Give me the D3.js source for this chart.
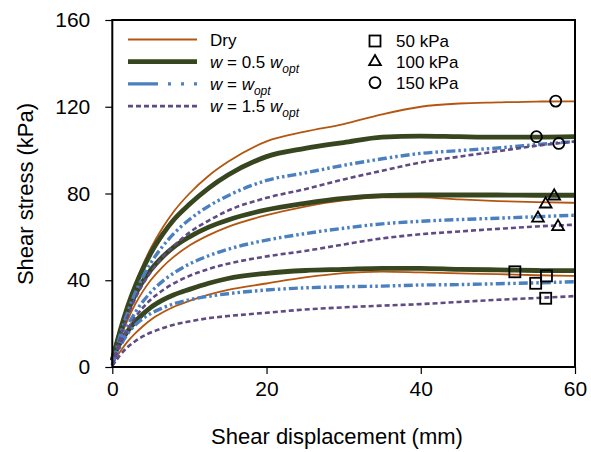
<!DOCTYPE html>
<html>
<head>
<meta charset="utf-8">
<script src="https://cdn.jsdelivr.net/npm/d3@7"></script>
<style>
  body { margin: 0; background: #fff; }
  svg { display: block; }
  text { font-family: "Liberation Sans", Arial, Helvetica, sans-serif; fill: #000; }
</style>
</head>
<body>
<svg id="chart" width="591" height="452"></svg>
<script>
// Shear displacement (mm) at which stresses are sampled
const displacement = [0, 0.5, 1, 2, 3, 4, 5, 6.5, 8, 10, 12.5, 15, 20, 25, 30, 35, 40, 45, 50, 55, 60];

// Shear stress (kPa) — dry specimens
const dry50  = [2, 4.5, 7, 11.8, 15.6, 18.9, 21.8, 25.1, 27.8, 30.5, 33.4, 35.6, 38.5, 41.3, 43.3, 44, 43.6, 43.2, 42.8, 42.3, 42];
const dry100 = [2, 7.5, 12.8, 21.8, 29.1, 35.1, 40.1, 46.1, 50.9, 56, 60.8, 64.6, 70, 74, 76.8, 78.2, 78.2, 77.3, 76.5, 76, 75.7];
const dry150 = [2, 9.5, 16, 28.3, 38.6, 47.3, 54.8, 64.1, 71.8, 80, 88.2, 94.6, 104, 108.5, 112, 116.5, 120, 121.5, 122, 122.4, 122.5];

// w = 0.5 w_opt
const half50  = [3, 7.5, 11, 16.5, 21, 24.5, 27.5, 30.8, 33.3, 35.8, 38.6, 40.8, 43.2, 44.5, 45, 45.5, 45.5, 45, 44.8, 44.5, 44.4];
const half100 = [3, 9.5, 15.5, 25.6, 33.5, 39.8, 44.8, 50.7, 55.4, 60, 64.5, 67.8, 72.5, 75.5, 77.8, 79, 79.3, 79.3, 79.3, 79.2, 79.2];
const half150 = [3, 10, 16.5, 28, 37.5, 45.5, 52.5, 61, 68, 75, 82.5, 88.5, 97, 100.8, 103.5, 106, 106.5, 106.2, 106, 106, 106.2];

// w = w_opt
const opt50  = [1, 5.5, 9.4, 15.4, 19.5, 22.4, 24.7, 27.2, 29.2, 31, 32.6, 33.8, 35.5, 36.5, 37, 37.3, 37.8, 38, 38.4, 38.8, 39.3];
const opt100 = [1, 6, 10.8, 19, 25.3, 30.3, 34.5, 39.5, 43.4, 47.5, 51.3, 54.3, 58.5, 61.5, 64, 66, 67.2, 68, 68.6, 69.3, 70];
const opt150 = [1, 7.8, 14.3, 25.4, 34.4, 41.8, 48, 55.5, 61.6, 68, 74.2, 79, 86, 89.5, 93, 96, 98.5, 99.8, 101, 102.5, 104];

// w = 1.5 w_opt
const wet50  = [0.5, 3, 5.4, 9.2, 12, 14.2, 15.9, 17.9, 19.5, 21, 22.5, 23.5, 25, 26.5, 27.5, 28.3, 29, 30, 31, 31.8, 32.7];
const wet100 = [1, 5.5, 10.1, 17.4, 23, 27.5, 31.1, 35.3, 38.6, 42, 45.2, 47.6, 51, 53.5, 56.5, 59.3, 61.2, 62.5, 63.7, 64.8, 65.6];
const wet150 = [1, 7, 13.2, 23.5, 31.7, 38.4, 43.9, 50.7, 55.9, 62, 67.5, 72.1, 78, 82, 86.5, 90.5, 94.3, 97, 99.5, 102, 104];

// Peak markers [displacement, stress] for each normal stress
const squareMarks   = [[52.2, 43.9], [54.9, 38.6], [56.3, 42.0], [56.2, 31.7]];
const triangleMarks = [[57.3, 78.8], [56.2, 75.1], [55.2, 68.6], [57.8, 64.7]];
const circleMarks   = [[57.5, 122.6], [55.0, 106.2], [57.9, 103.1]];

// Axis ticks
const xTicks = [0, 20, 40, 60];
const yTicks = [0, 40, 80, 120, 160];

// Moisture groups: line style per group
const groups = [
  { key: "dry",  color: "#b4560f", width: 1.8, dash: null,              series: [dry50, dry100, dry150] },
  { key: "half", color: "#37461f", width: 4.8, dash: null,              series: [half50, half100, half150] },
  { key: "opt",  color: "#4a7fc0", width: 3.4, dash: "9,3,2.5,3,2.5,3", series: [opt50, opt100, opt150] },
  { key: "wet",  color: "#5f4a84", width: 2.6, dash: "5,3",             series: [wet50, wet100, wet150] }
];

const svg = d3.select("#chart");
const x = d3.scaleLinear().domain([0, 60]).range([112.3, 575]);
const y = d3.scaleLinear().domain([0, 160]).range([367, 20]);

const line = d3.line()
  .x((d, i) => x(displacement[i]))
  .y(d => y(d))
  .curve(d3.curveMonotoneX);

// Curves
const plot = svg.append("g");
groups.forEach(g => {
  g.series.forEach(vals => {
    plot.append("path")
      .attr("d", line(vals))
      .attr("fill", "none")
      .attr("stroke", g.color)
      .attr("stroke-width", g.width)
      .attr("stroke-dasharray", g.dash)
      .attr("stroke-linejoin", "round");
  });
});

// Markers
const mk = svg.append("g").attr("fill", "none").attr("stroke", "#000").attr("stroke-width", 1.8);
mk.selectAll(".sq").data(squareMarks).join("rect")
  .attr("x", d => x(d[0]) - 5.5).attr("y", d => y(d[1]) - 5.5)
  .attr("width", 11).attr("height", 11);
const tri = d3.symbol().type(d3.symbolTriangle).size(60);
mk.selectAll(".tri").data(triangleMarks).join("path")
  .attr("d", tri)
  .attr("transform", d => `translate(${x(d[0])},${y(d[1])})`);
mk.selectAll(".ci").data(circleMarks).join("circle")
  .attr("cx", d => x(d[0])).attr("cy", d => y(d[1])).attr("r", 5.5);

// Plot frame
svg.append("rect")
  .attr("x", x(0)).attr("y", y(160))
  .attr("width", x(60) - x(0)).attr("height", y(0) - y(160))
  .attr("fill", "none").attr("stroke", "#000").attr("stroke-width", 2);

// Axes
const xAxis = svg.append("g")
  .attr("transform", `translate(0,${y(0)})`)
  .call(d3.axisBottom(x).tickValues(xTicks).tickSize(7).tickPadding(7));
const yAxis = svg.append("g")
  .attr("transform", `translate(${x(0)},0)`)
  .call(d3.axisLeft(y).tickValues(yTicks).tickSize(7).tickPadding(15));
[xAxis, yAxis].forEach(a => {
  a.select(".domain").remove();
  a.selectAll("line").attr("stroke", "#000").attr("stroke-width", 1.2);
  a.selectAll("text").attr("font-size", 21).attr("font-family", "Liberation Sans, Arial, sans-serif").attr("fill", "#000");
});

// Axis titles
svg.append("text")
  .attr("x", 337).attr("y", 444)
  .attr("text-anchor", "middle").attr("font-size", 22)
  .text("Shear displacement (mm)");
svg.append("text")
  .attr("transform", "translate(33,194) rotate(-90)")
  .attr("text-anchor", "middle").attr("font-size", 22)
  .text("Shear stress (kPa)");

// Legend: moisture groups
const legendRows = [
  { parts: [["Dry", false, false]] },
  { parts: [["w", true, false], [" = 0.5 ", false, false], ["w", true, false], ["opt", true, true]] },
  { parts: [["w", true, false], [" = ", false, false], ["w", true, false], ["opt", true, true]] },
  { parts: [["w", true, false], [" = 1.5 ", false, false], ["w", true, false], ["opt", true, true]] }
];
const leg = svg.append("g");
legendRows.forEach((row, i) => {
  const g = groups[i];
  const yy = 39.5 + i * 22.2;
  leg.append("line")
    .attr("x1", 128).attr("x2", 197).attr("y1", yy).attr("y2", yy)
    .attr("stroke", g.color).attr("stroke-width", g.width)
    .attr("stroke-dasharray", g.key === "opt" ? "30,10,3,10,3,10" : g.dash);
  const t = leg.append("text").attr("x", 210).attr("y", yy + 6).attr("font-size", 17);
  row.parts.forEach(([s, it, sub]) => {
    const ts = t.append("tspan").text(s);
    if (it) ts.attr("font-style", "italic");
    if (sub) ts.attr("font-size", 12).attr("dy", 5);
  });
});

// Legend: normal stress symbols
const stressLabels = ["50 kPa", "100 kPa", "150 kPa"];
const shapes = ["square", "triangle", "circle"];
stressLabels.forEach((lab, i) => {
  const yy = 41 + i * 20.8;
  const cx = 375;
  if (shapes[i] === "square") {
    leg.append("rect").attr("x", cx - 5.5).attr("y", yy - 5.5).attr("width", 11).attr("height", 11)
      .attr("fill", "none").attr("stroke", "#000").attr("stroke-width", 1.8);
  } else if (shapes[i] === "triangle") {
    leg.append("path").attr("d", tri).attr("transform", `translate(${cx},${yy})`)
      .attr("fill", "none").attr("stroke", "#000").attr("stroke-width", 1.8);
  } else {
    leg.append("circle").attr("cx", cx).attr("cy", yy).attr("r", 5.5)
      .attr("fill", "none").attr("stroke", "#000").attr("stroke-width", 1.8);
  }
  leg.append("text").attr("x", 396).attr("y", yy + 6).attr("font-size", 17).text(lab);
});
</script>
</body>
</html>
